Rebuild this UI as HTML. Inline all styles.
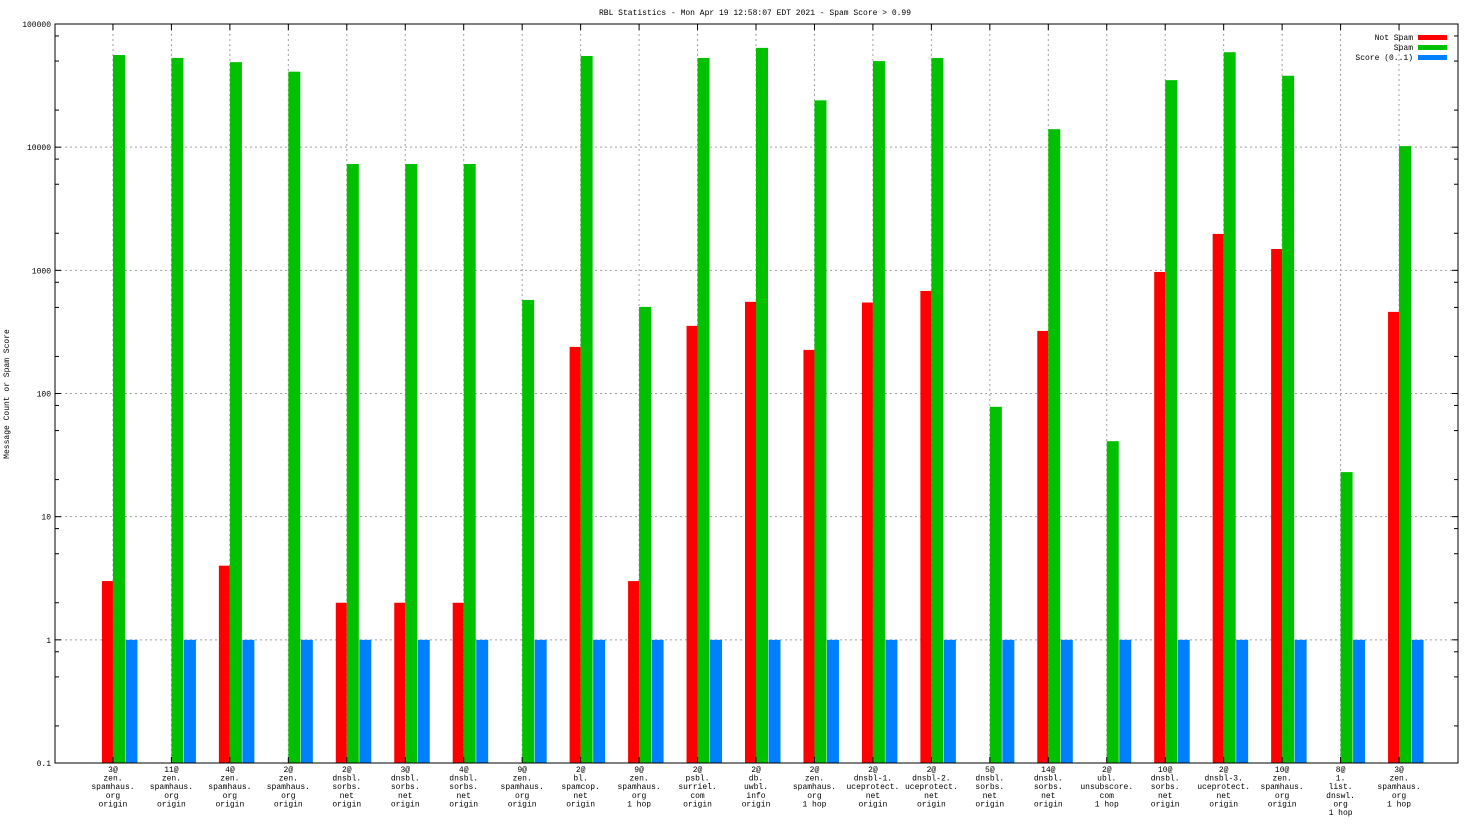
<!DOCTYPE html>
<html><head><meta charset="utf-8"><style>
body{margin:0;background:#fff;}
svg text{font-family:"Liberation Mono",monospace;font-size:8px;fill:#000;}
</style></head><body>
<svg id="chart" width="1472" height="828" xmlns="http://www.w3.org/2000/svg">
<rect width="1472" height="828" fill="#fff"/>
<text x="755" y="15" text-anchor="middle">RBL Statistics - Mon Apr 19 12:58:07 EDT 2021 - Spam Score &gt; 0.99</text>
<text transform="translate(9,394) rotate(-90)" text-anchor="middle">Message Count or Spam Score</text>
<g id="grid"></g><g id="bars"></g><g id="axes"></g><g id="labels"></g>
<g>
<text x="1413" y="40" text-anchor="end">Not Spam</text><rect x="1418" y="35" width="29" height="5" fill="#ff0000"/>
<text x="1413" y="50" text-anchor="end">Spam</text><rect x="1418" y="45" width="29" height="5" fill="#00c000"/>
<text x="1413" y="60" text-anchor="end">Score (0..1)</text><rect x="1418" y="55" width="29" height="5" fill="#0080ff"/>
</g>
</svg>
<script>
const categories=[
["3@","zen.","spamhaus.","org","origin"],["11@","zen.","spamhaus.","org","origin"],["4@","zen.","spamhaus.","org","origin"],["2@","zen.","spamhaus.","org","origin"],
["2@","dnsbl.","sorbs.","net","origin"],["3@","dnsbl.","sorbs.","net","origin"],["4@","dnsbl.","sorbs.","net","origin"],["9@","zen.","spamhaus.","org","origin"],
["2@","bl.","spamcop.","net","origin"],["9@","zen.","spamhaus.","org","1 hop"],["2@","psbl.","surriel.","com","origin"],["2@","db.","uwbl.","info","origin"],
["2@","zen.","spamhaus.","org","1 hop"],["2@","dnsbl-1.","uceprotect.","net","origin"],["2@","dnsbl-2.","uceprotect.","net","origin"],["5@","dnsbl.","sorbs.","net","origin"],
["14@","dnsbl.","sorbs.","net","origin"],["2@","ubl.","unsubscore.","com","1 hop"],["10@","dnsbl.","sorbs.","net","origin"],["2@","dnsbl-3.","uceprotect.","net","origin"],
["10@","zen.","spamhaus.","org","origin"],["8@","1.","list.","dnswl.","org","1 hop"],["3@","zen.","spamhaus.","org","1 hop"]];
const notSpam=[3,0,4,0,2,2,2,0,239,3,354,555,226,548,680,0,322,0,970,1975,1490,0,460];
const spam=[56000,53000,49000,41000,7300,7300,7300,575,55000,505,53000,64000,24000,50000,53000,78,14000,41,35000,59000,38000,23,10200];
const score=[1,1,1,1,1,1,1,1,1,1,1,1,1,1,1,1,1,1,1,1,1,1,1];
const yTicks=["0.1","1","10","100","1000","10000","100000"];
const L=55,R=1458,T=24,B=763,NS="http://www.w3.org/2000/svg";
const xS=i=>L+(i+1)*(R-L)/(categories.length+1);
const yS=v=>B-(Math.log10(v)+1)/6*(B-T);
function mk(tag,attrs,parent){const e=document.createElementNS(NS,tag);for(const k in attrs)e.setAttribute(k,attrs[k]);document.getElementById(parent).appendChild(e);return e;}
yTicks.forEach(t=>{const y=yS(+t);
 if(y>T+1&&y<B-1){const g=mk('line',{x1:L,x2:R,y1:y,y2:y,stroke:'#a0a0a0','stroke-dasharray':'2,3','stroke-width':1},'grid');
 
 }
 mk('line',{x1:L,x2:L+6,y1:y,y2:y,stroke:'#000'},'axes');mk('line',{x1:R-6,x2:R,y1:y,y2:y,stroke:'#000'},'axes');
 const tx=mk('text',{x:L-4,y:y+3,'text-anchor':'end'},'axes');tx.textContent=t;
 
 
 if(+t<100000){[2,5,8].forEach(m=>{const yy=yS(+t*m);mk('line',{x1:L,x2:L+4,y1:yy,y2:yy,stroke:'#000'},'axes');mk('line',{x1:R-4,x2:R,y1:yy,y2:yy,stroke:'#000'},'axes');});}
});
categories.forEach((c,i)=>{const x=xS(i)-0.5;
 const g=mk('line',{x1:x,x2:x,y1:T,y2:B,stroke:'#a0a0a0','stroke-dasharray':'2,3'},'grid');
 
 
 mk('line',{x1:x,x2:x,y1:B-6,y2:B,stroke:'#000'},'axes');mk('line',{x1:x,x2:x,y1:T,y2:T+6,stroke:'#000'},'axes');
 const series=[[notSpam[i],'#ff0000',-11,'bar-not-spam'],[spam[i],'#00c000',0,'bar-spam'],[score[i],'#0080ff',12.5,'bar-score']];
 series.forEach(s=>{if(s[0]>0){const y=yS(s[0]);const r=mk('rect',{x:x+s[2],y:y,width:s[2]===-11?11:12,height:B-y,fill:s[1]},'bars');
  
  }});
 const t=mk('text',{x:x,y:772,'text-anchor':'middle'},'labels');
 
 
 c.forEach((ln,k)=>{const ts=document.createElementNS(NS,'tspan');ts.setAttribute('x',x);ts.setAttribute('dy',k?8.6:0);ts.textContent=ln;t.appendChild(ts);});
});
mk('rect',{x:L,y:T,width:R-L,height:B-T,fill:'none',stroke:'#000','stroke-width':1},'axes');
</script>
</body></html>
